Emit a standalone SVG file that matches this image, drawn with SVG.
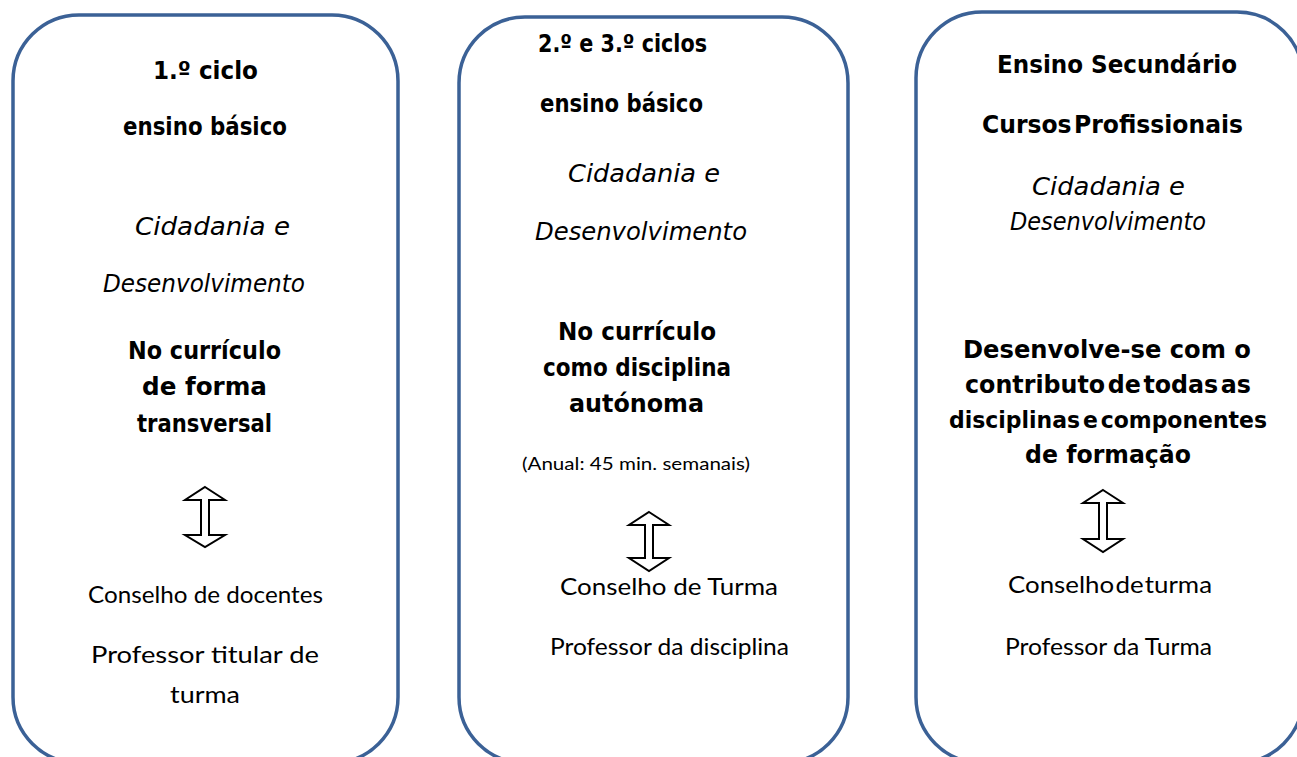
<svg xmlns="http://www.w3.org/2000/svg" width="1297" height="757" viewBox="0 0 1297 757">
<style>
.box{fill:#fff;stroke:#3b6196;stroke-width:3.5}
.b{font-family:"DejaVu Sans",sans-serif;font-weight:bold;font-size:25px;fill:#000}
.i{font-family:"DejaVu Sans",sans-serif;font-style:italic;font-size:24px;fill:#000}
.r{font-family:Lato,"Open Sans",sans-serif;font-size:24px;fill:#000}
.s{font-family:Lato,"Open Sans",sans-serif;font-size:17px;fill:#000}
.arr{fill:#fff;stroke:#000;stroke-width:2;stroke-linejoin:miter}
</style>
<rect width="1297" height="757" fill="#fff"/>
<g id="node-1ciclo">
<rect class="box" x="13" y="15" width="385" height="748" rx="66" ry="66"/>
<text class="b" x="153" y="79" textLength="105" lengthAdjust="spacingAndGlyphs">1.º ciclo</text>
<text class="b" x="123" y="135" textLength="164" lengthAdjust="spacingAndGlyphs">ensino básico</text>
<text class="i" x="135" y="235" textLength="155" lengthAdjust="spacingAndGlyphs">Cidadania e</text>
<text class="i" x="103" y="292" textLength="202" lengthAdjust="spacingAndGlyphs">Desenvolvimento</text>
<text class="b" x="128" y="359" textLength="153" lengthAdjust="spacingAndGlyphs">No currículo</text>
<text class="b" x="142" y="395" textLength="125" lengthAdjust="spacingAndGlyphs">de forma</text>
<text class="b" x="137" y="432" textLength="135" lengthAdjust="spacingAndGlyphs">transversal</text>
<text class="r" x="88" y="603" textLength="235" lengthAdjust="spacingAndGlyphs">Conselho de docentes</text>
<text class="r" x="91" y="663" textLength="228" lengthAdjust="spacingAndGlyphs">Professor titular de</text>
<text class="r" x="170" y="703" textLength="70" lengthAdjust="spacingAndGlyphs">turma</text>
</g>
<g id="node-2e3ciclos">
<rect class="box" x="459" y="17" width="389" height="746" rx="66" ry="66"/>
<text class="b" x="538" y="52" textLength="169" lengthAdjust="spacingAndGlyphs">2.º e 3.º ciclos</text>
<text class="b" x="540" y="112" textLength="163" lengthAdjust="spacingAndGlyphs">ensino básico</text>
<text class="i" x="568" y="182" textLength="152" lengthAdjust="spacingAndGlyphs">Cidadania e</text>
<text class="i" x="535" y="240" textLength="212" lengthAdjust="spacingAndGlyphs">Desenvolvimento</text>
<text class="b" x="558" y="340" textLength="158" lengthAdjust="spacingAndGlyphs">No currículo</text>
<text class="b" x="543" y="376" textLength="188" lengthAdjust="spacingAndGlyphs">como disciplina</text>
<text class="b" x="569" y="412" textLength="135" lengthAdjust="spacingAndGlyphs">autónoma</text>
<text class="s" x="522" y="470" textLength="228" lengthAdjust="spacingAndGlyphs">(Anual: 45 min. semanais)</text>
<text class="r" x="560" y="595" textLength="218" lengthAdjust="spacingAndGlyphs">Conselho de Turma</text>
<text class="r" x="550" y="655" textLength="239" lengthAdjust="spacingAndGlyphs">Professor da disciplina</text>
</g>
<g id="node-secundario">
<rect class="box" x="916" y="12" width="387" height="751" rx="66" ry="66"/>
<text class="b" x="997" y="73" textLength="240" lengthAdjust="spacingAndGlyphs">Ensino Secundário</text>
<text class="b" x="982" y="133" textLength="261" lengthAdjust="spacingAndGlyphs" word-spacing="-6">Cursos Profissionais</text>
<text class="i" x="1032" y="195" textLength="153" lengthAdjust="spacingAndGlyphs">Cidadania e</text>
<text class="i" x="1010" y="230" textLength="196" lengthAdjust="spacingAndGlyphs">Desenvolvimento</text>
<text class="b" x="963" y="358" textLength="288" lengthAdjust="spacingAndGlyphs">Desenvolve-se com o</text>
<text class="b" x="965" y="393" textLength="286" lengthAdjust="spacingAndGlyphs" word-spacing="-6">contributo de todas as</text>
<text class="b" x="949" y="428" textLength="318" lengthAdjust="spacingAndGlyphs" word-spacing="-5" style="font-size:23px">disciplinas e componentes</text>
<text class="b" x="1025" y="463" textLength="166" lengthAdjust="spacingAndGlyphs">de formação</text>
<text class="r" x="1008" y="593" textLength="204" lengthAdjust="spacingAndGlyphs" word-spacing="-5">Conselho de turma</text>
<text class="r" x="1005" y="655" textLength="207" lengthAdjust="spacingAndGlyphs">Professor da Turma</text>
</g>
<g id="connectors">
<path class="arr" d="M205,487 L225,500 L209,500 L209,535 L225,535 L205,547 L185,535 L201,535 L201,500 L185,500 Z"/>
<path class="arr" d="M649,512 L669,525 L653,525 L653,558 L669,558 L649,571 L629,558 L645,558 L645,525 L629,525 Z"/>
<path class="arr" d="M1103,490 L1123,503 L1107,503 L1107,539 L1123,539 L1103,552 L1083,539 L1099,539 L1099,503 L1083,503 Z"/>
</g>
</svg>
